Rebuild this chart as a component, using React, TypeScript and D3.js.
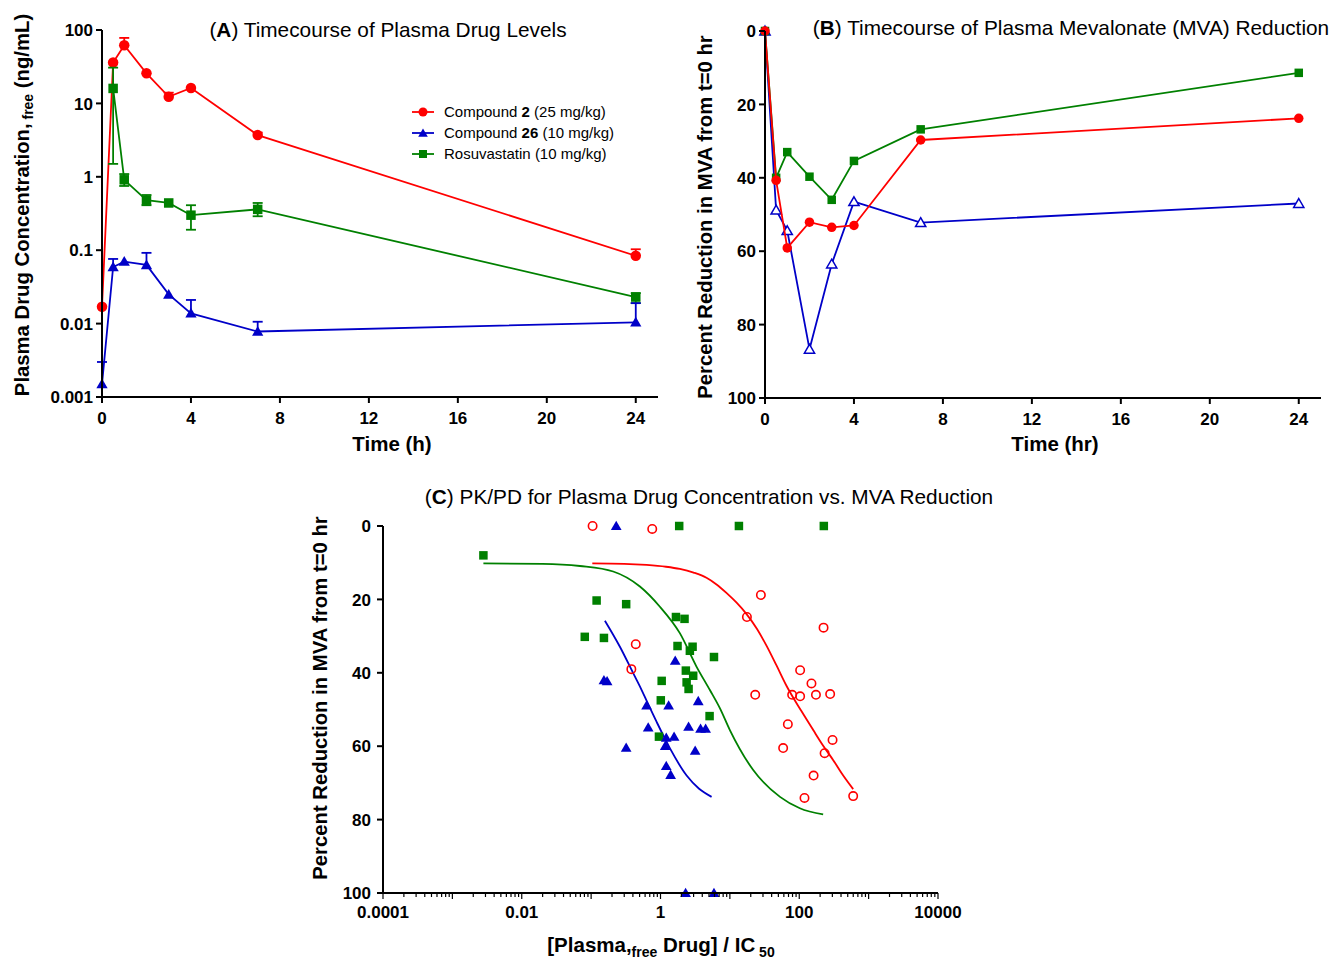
import * as d3 from "d3"

const RED = "#ff0000"
const BLUE = "#0000c8"
const GREEN = "#008000"
const FONT = "'Liberation Sans', Arial, Helvetica, sans-serif"

// ---- panel A: plasma drug levels (ng/mL) ----
const timesA = [0, 0.5, 1, 2, 3, 4, 7, 24]
const cmpd2Conc = [0.017, 36, 62, 25.7, 12.3, 16.2, 3.7, 0.084]
const cmpd2ErrHi = [null, null, 78, null, 14, null, 4.0, 0.103]
const cmpd26Conc = [0.0015, 0.059, 0.07, 0.063, 0.025, 0.0138, 0.0078, 0.0104]
const cmpd26ErrHi = [0.003, 0.076, null, 0.092, null, 0.021, 0.0106, 0.019]
const timesRosuva = [0.5, 1, 2, 3, 4, 7, 24]
const rosuvaConc = [16, 0.91, 0.48, 0.44, 0.3, 0.36, 0.023]
const rosuvaErrLo = [1.5, 0.75, 0.41, null, 0.19, 0.29, 0.019]
const rosuvaErrHi = [30.7, 1.09, 0.565, null, 0.41, 0.44, 0.026]
const concTicks = [0.001, 0.01, 0.1, 1, 10, 100]
const concTickLabels = ["0.001", "0.01", "0.1", "1", "10", "100"]
const timeTicks = [0, 4, 8, 12, 16, 20, 24]

// ---- panel B: % MVA reduction ----
const timesB = [0, 0.5, 1, 2, 3, 4, 7, 24]
const cmpd2MVA = [0, 40.7, 59.1, 52.1, 53.5, 53, 29.7, 23.8]
const cmpd26MVA = [0, 48.8, 54.4, 86.7, 63.5, 46.5, 52.2, 47]
const rosuvaMVA = [0, 40, 33, 39.7, 46, 35.4, 26.8, 11.4]
const pctTicks = [0, 20, 40, 60, 80, 100]

// ---- panel C: PK/PD, [x = conc/IC50, y = % reduction] ----
const cmpd2Pts = [
  [0.105, 0], [0.76, 0.8], [28, 18.8], [17.6, 24.8], [224, 27.7], [0.44, 32.2],
  [0.38, 39], [103, 39.3], [150, 42.9], [23.2, 46], [79, 46], [103, 46.4],
  [174, 46], [279, 45.8], [68.5, 54], [58.6, 60.5], [302, 58.3], [232, 61.9],
  [161, 68], [119, 74.1], [599, 73.6],
]
const cmpd26Pts = [
  [0.23, 0], [0.153, 42], [0.17, 42.3], [1.63, 36.7], [3.5, 47.7], [0.63, 48.9],
  [1.31, 48.9], [0.665, 54.9], [2.54, 54.7], [3.78, 55.2], [4.47, 55.2], [1.21, 57.7],
  [1.57, 57.4], [0.32, 60.4], [1.17, 59.9], [3.16, 61.2], [1.21, 65.4], [1.4, 67.8],
  [2.3, 100], [5.9, 100],
]
const rosuvaPts = [
  [0.0028, 8], [1.86, 0], [13.5, 0], [226, 0], [0.12, 20.3], [0.32, 21.3],
  [0.081, 30.2], [0.153, 30.5], [1.67, 24.8], [2.22, 25.3], [1.76, 32.7], [2.9, 32.9],
  [2.65, 34], [5.9, 35.7], [2.32, 39.4], [2.96, 40.8], [1.04, 42.2], [2.38, 42.6],
  [2.54, 44.4], [1.01, 47.5], [5.1, 51.8], [0.95, 57.4],
]
// fitted curves
const cmpd2Fit = [
  [0.104, 10.2], [0.3, 10.3], [0.63, 10.6], [1.2, 11.1], [1.9, 11.7], [3.0, 12.7],
  [4.6, 14.1], [6.5, 16.0], [9.0, 18.3], [12.5, 20.9], [17.4, 24.0], [24.5, 28.0],
  [33.7, 32.6], [47, 38.0], [65.7, 43.6], [108, 50.5], [159, 55.6], [220, 59.8],
  [309, 63.8], [430, 68.0], [599, 71.7],
]
const cmpd26Fit = [
  [0.158, 25.8], [0.26, 32.9], [0.404, 40.1], [0.535, 44.7], [0.63, 47.6], [0.88, 53.4],
  [1.37, 60.6], [2.38, 68.0], [3.6, 71.6], [5.45, 73.8],
]
const rosuvaFit = [
  [0.0028, 10.2], [0.02, 10.3], [0.069, 10.9], [0.208, 12.4], [0.505, 16.5], [0.98, 22],
  [1.9, 29.2], [3.3, 38.3], [5.15, 44.7], [7.2, 49.7], [10, 55.6], [21.7, 66.5],
  [52.8, 73.8], [102, 76.9], [221, 78.6],
]
const ratioTickLabels = [
  [1e-4, "0.0001"], [1e-2, "0.01"], [1, "1"], [100, "100"], [1e4, "10000"],
]

type Shape = "circle" | "square" | "triangle"

const triPath = (size: number) => d3.symbol().type(d3.symbolTriangle).size(size)()

function Marker({ shape, x, y, color, s, open = false }: any) {
  const fill = open ? "white" : color
  const sw = open ? 1.5 : 0
  if (shape === "circle")
    return <circle cx={x} cy={y} r={s / 2} fill={fill} stroke={color} strokeWidth={sw} />
  if (shape === "square")
    return <rect x={x - s / 2} y={y - s / 2} width={s} height={s} fill={fill} stroke={color} strokeWidth={sw} />
  return <path d={triPath(s * s * 0.5) as string} transform={`translate(${x},${y + 1})`} fill={fill} stroke={color} strokeWidth={sw} />
}

function YLabel({ x, y, children }: any) {
  return (
    <text transform={`translate(${x},${y}) rotate(-90)`} textAnchor="middle" fontWeight="bold" fontSize={20.3}>
      {children}
    </text>
  )
}

const TITLE = 20.8
const AXLAB = 20.5
const TICK = 17

function PanelA() {
  const x = d3.scaleLinear().domain([0, 25]).range([102, 658])
  const y = d3.scaleLog().domain([0.001, 100]).range([397, 30])
  const line = d3.line<number[]>().x((d) => x(d[0])).y((d) => y(d[1]))
  const series = [
    { t: timesA, v: cmpd2Conc, lo: timesA.map(() => null), hi: cmpd2ErrHi, color: RED, shape: "circle" as Shape },
    { t: timesRosuva, v: rosuvaConc, lo: rosuvaErrLo, hi: rosuvaErrHi, color: GREEN, shape: "square" as Shape },
    { t: timesA, v: cmpd26Conc, lo: timesA.map(() => null), hi: cmpd26ErrHi, color: BLUE, shape: "triangle" as Shape },
  ]
  const legend = [
    { color: RED, shape: "circle", pre: "Compound ", bold: "2", post: " (25 mg/kg)" },
    { color: BLUE, shape: "triangle", pre: "Compound ", bold: "26", post: " (10 mg/kg)" },
    { color: GREEN, shape: "square", pre: "Rosuvastatin (10 mg/kg)", bold: "", post: "" },
  ]
  return (
    <g>
      {series.map((s, i) => (
        <g key={i}>
          <path d={line(s.t.map((t, j) => [t, s.v[j]])) as string} fill="none" stroke={s.color} strokeWidth={1.8} />
          {s.t.map((t, j) => {
            const lo = s.lo[j] ?? s.v[j]
            const hi = s.hi[j] ?? s.v[j]
            if (lo === hi) return null
            return (
              <g key={j} stroke={s.color} strokeWidth={1.8}>
                <line x1={x(t)} x2={x(t)} y1={y(lo)} y2={y(hi)} />
                {s.hi[j] != null && <line x1={x(t) - 5} x2={x(t) + 5} y1={y(hi)} y2={y(hi)} />}
                {s.lo[j] != null && <line x1={x(t) - 5} x2={x(t) + 5} y1={y(lo)} y2={y(lo)} />}
              </g>
            )
          })}
          {s.t.map((t, j) => (
            <Marker key={j} shape={s.shape} x={x(t)} y={y(s.v[j])} color={s.color} s={s.shape === "square" ? 9.5 : 10.5} />
          ))}
        </g>
      ))}
      {/* axes */}
      <g stroke="black" strokeWidth={2}>
        <line x1={102} x2={102} y1={30} y2={397} />
        <line x1={102} x2={658} y1={397} y2={397} />
        {concTicks.map((v) => <line key={v} x1={96} x2={102} y1={y(v)} y2={y(v)} />)}
        {timeTicks.map((v) => <line key={v} x1={x(v)} x2={x(v)} y1={397} y2={403} />)}
      </g>
      <g fontWeight="bold" fontSize={TICK}>
        {concTicks.map((v, i) => (
          <text key={v} x={93} y={y(v)} dy="0.36em" textAnchor="end">{concTickLabels[i]}</text>
        ))}
        {timeTicks.map((v) => (
          <text key={v} x={x(v)} y={424} textAnchor="middle">{v}</text>
        ))}
      </g>
      <text x={388} y={37} textAnchor="middle" fontSize={TITLE}>
        (<tspan fontWeight="bold">A</tspan>) Timecourse of Plasma Drug Levels
      </text>
      <text x={392} y={451} textAnchor="middle" fontSize={AXLAB} fontWeight="bold">Time (h)</text>
      <YLabel x={29} y={205}>
        Plasma Drug Concentration,<tspan fontSize={14} dy={4}> free</tspan><tspan dy={-4}> (ng/mL)</tspan>
      </YLabel>
      {legend.map((l, i) => (
        <g key={i} transform={`translate(0,${112 + i * 21})`}>
          <line x1={412} x2={434} y1={0} y2={0} stroke={l.color} strokeWidth={1.8} />
          <Marker shape={l.shape} x={423} y={0} color={l.color} s={l.shape === "square" ? 8 : 9} />
          <text x={444} y={0} dy="0.36em" fontSize={15}>
            {l.pre}<tspan fontWeight="bold">{l.bold}</tspan>{l.post}
          </text>
        </g>
      ))}
    </g>
  )
}

function PanelB() {
  const x = d3.scaleLinear().domain([0, 25]).range([765, 1321])
  const y = d3.scaleLinear().domain([0, 100]).range([31, 398])
  const line = d3.line<number>().x((_, j) => x(timesB[j])).y((d) => y(d))
  const series = [
    { v: cmpd26MVA, color: BLUE, shape: "triangle", open: true },
    { v: rosuvaMVA, color: GREEN, shape: "square", open: false },
    { v: cmpd2MVA, color: RED, shape: "circle", open: false },
  ]
  return (
    <g>
      {series.map((s, i) => (
        <g key={i}>
          <path d={line(s.v) as string} fill="none" stroke={s.color} strokeWidth={1.8} />
          {s.v.map((v, j) => (
            <Marker key={j} shape={s.shape} x={x(timesB[j])} y={y(v)} color={s.color} s={s.shape === "square" ? 8.5 : 9.5} open={s.open} />
          ))}
        </g>
      ))}
      <g stroke="black" strokeWidth={2}>
        <line x1={765} x2={765} y1={31} y2={398} />
        <line x1={765} x2={1321} y1={398} y2={398} />
        {pctTicks.map((v) => <line key={v} x1={759} x2={765} y1={y(v)} y2={y(v)} />)}
        {timeTicks.map((v) => <line key={v} x1={x(v)} x2={x(v)} y1={398} y2={404} />)}
      </g>
      <g fontWeight="bold" fontSize={TICK}>
        {pctTicks.map((v) => (
          <text key={v} x={756} y={y(v)} dy="0.36em" textAnchor="end">{v}</text>
        ))}
        {timeTicks.map((v) => (
          <text key={v} x={x(v)} y={425} textAnchor="middle">{v}</text>
        ))}
      </g>
      <text x={1071} y={35} textAnchor="middle" fontSize={TITLE}>
        (<tspan fontWeight="bold">B</tspan>) Timecourse of Plasma Mevalonate (MVA) Reduction
      </text>
      <text x={1055} y={451} textAnchor="middle" fontSize={AXLAB} fontWeight="bold">Time (hr)</text>
      <YLabel x={712} y={217}>Percent Reduction in MVA from t=0 hr</YLabel>
    </g>
  )
}

function PanelC() {
  const x = d3.scaleLog().domain([1e-4, 1e4]).range([383, 938])
  const y = d3.scaleLinear().domain([0, 100]).range([526, 893])
  const line = d3.line<number[]>().x((d) => x(d[0])).y((d) => y(d[1])).curve(d3.curveMonotoneX)
  const minor: number[] = []
  for (let e = -4; e < 4; e++) for (let k = 2; k <= 9; k++) minor.push(k * Math.pow(10, e))
  const major = d3.range(-4, 5).map((e) => Math.pow(10, e))
  return (
    <g>
      <path d={line(cmpd2Fit) as string} fill="none" stroke={RED} strokeWidth={1.8} />
      <path d={line(rosuvaFit) as string} fill="none" stroke={GREEN} strokeWidth={1.8} />
      <path d={line(cmpd26Fit) as string} fill="none" stroke={BLUE} strokeWidth={1.8} />
      {rosuvaPts.map((p, i) => (
        <Marker key={"g" + i} shape="square" x={x(p[0])} y={y(p[1])} color={GREEN} s={8.5} />
      ))}
      {cmpd26Pts.map((p, i) => (
        <Marker key={"b" + i} shape="triangle" x={x(p[0])} y={y(p[1])} color={BLUE} s={10} />
      ))}
      {cmpd2Pts.map((p, i) => (
        <circle key={"r" + i} cx={x(p[0])} cy={y(p[1])} r={4.2} fill="none" stroke={RED} strokeWidth={1.6} />
      ))}
      <g stroke="black" strokeWidth={2}>
        <line x1={383} x2={383} y1={526} y2={893} />
        <line x1={383} x2={938} y1={893} y2={893} />
        {pctTicks.map((v) => <line key={v} x1={377} x2={383} y1={y(v)} y2={y(v)} />)}
      </g>
      <g stroke="black" strokeWidth={1.2}>
        {major.map((v) => <line key={v} x1={x(v)} x2={x(v)} y1={893} y2={899} />)}
        {minor.map((v) => <line key={v} x1={x(v)} x2={x(v)} y1={893} y2={897} />)}
      </g>
      <g fontWeight="bold" fontSize={TICK}>
        {pctTicks.map((v) => (
          <text key={v} x={371} y={y(v)} dy="0.36em" textAnchor="end">{v}</text>
        ))}
        {ratioTickLabels.map(([v, l]) => (
          <text key={l as string} x={x(v as number)} y={918} textAnchor="middle">{l}</text>
        ))}
      </g>
      <text x={709} y={504} textAnchor="middle" fontSize={TITLE}>
        (<tspan fontWeight="bold">C</tspan>) PK/PD for Plasma Drug Concentration vs. MVA Reduction
      </text>
      <text x={661} y={952} textAnchor="middle" fontSize={AXLAB} fontWeight="bold">
        [Plasma,<tspan fontSize={14} dy={5}>free</tspan><tspan dy={-5}> Drug] / IC</tspan>
        <tspan fontSize={14} dy={5}> 50</tspan>
      </text>
      <YLabel x={327} y={698}>Percent Reduction in MVA from t=0 hr</YLabel>
    </g>
  )
}

export default function App() {
  return (
    <div style={{ position: "absolute", left: 0, top: 0 }}>
      <svg width={1330} height={960} fontFamily={FONT} style={{ display: "block", background: "white" }}>
        <PanelA />
        <PanelB />
        <PanelC />
      </svg>
    </div>
  )
}
